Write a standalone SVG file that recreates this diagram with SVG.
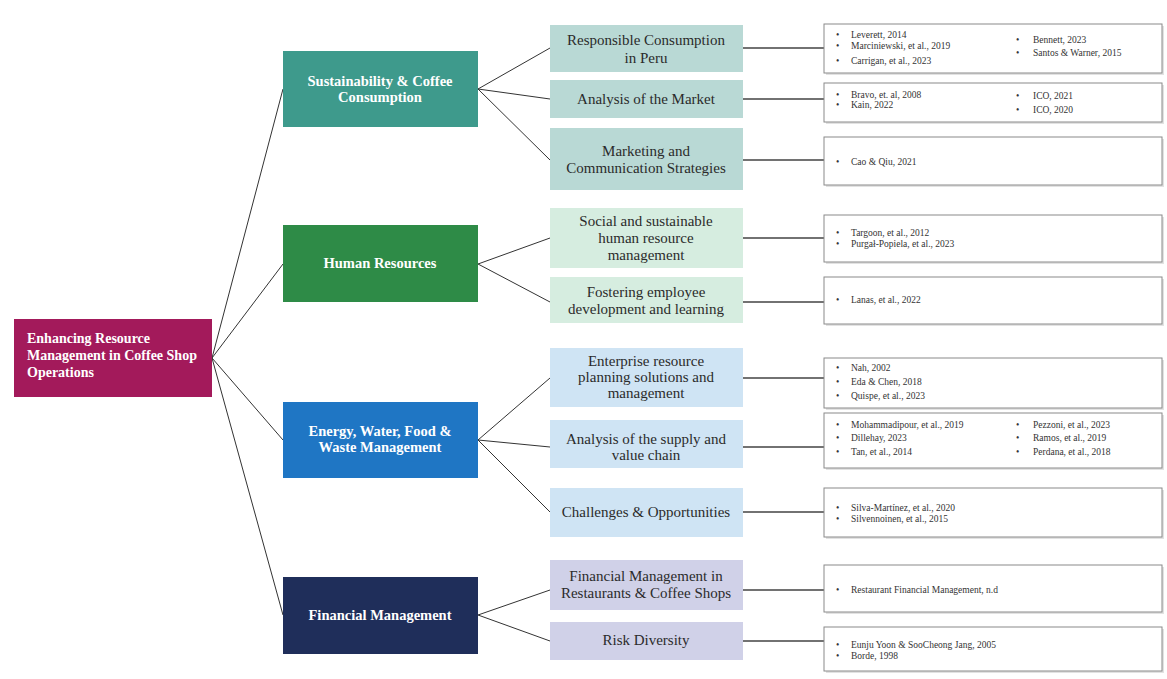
<svg xmlns="http://www.w3.org/2000/svg" width="1167" height="679" viewBox="0 0 1167 679">
<defs>
<style>
.l1t{font-family:"Liberation Serif",serif;font-weight:bold;font-size:14.5px;fill:#fff;text-anchor:middle}
.rt{font-family:"Liberation Serif",serif;font-weight:bold;font-size:14px;fill:#fff}
.l2t{font-family:"Liberation Serif",serif;font-size:15px;fill:#2b2b2b;text-anchor:middle}
.ref{font-family:"Liberation Serif",serif;font-size:9.5px;fill:#333}
.rbox{fill:#fff;stroke:#8a8a8a;stroke-width:1}
.shadow{fill:#e2e2e2}
.conn{stroke:#333;stroke-width:1;fill:none}
.hconn{stroke:#444;stroke-width:1.3;fill:none}
.teal{fill:#b9d9d5}.grn{fill:#d6ede0}.blu{fill:#cfe4f4}.lav{fill:#d0d1e8}
</style>
</defs>
<rect width="1167" height="679" fill="#fff"/>

<g id="connectors">
<path class="conn" d="M212 358 L283 89 M212 358 L283 264 M212 358 L283 440 M212 358 L283 615"/>
<path class="conn" d="M478 89 L550 48 M478 89 L550 99 M478 89 L550 160"/>
<path class="conn" d="M478 264 L550 238 M478 264 L550 302"/>
<path class="conn" d="M478 440 L550 378 M478 440 L550 447 M478 440 L550 512"/>
<path class="conn" d="M478 615 L550 590 M478 615 L550 641"/>
<path class="hconn" d="M743 48 H824 M743 99 H824 M743 160 H824 M743 238 H824 M743 302 H824 M743 378 H824 M743 447 H824 M743 512 H824 M743 590 H824 M743 641 H824"/>
</g>

<g id="root">
<rect x="14" y="319" width="198" height="78" fill="#a31a5b"/>
<text class="rt" x="27" y="343">Enhancing Resource</text>
<text class="rt" x="27" y="360">Management in Coffee Shop</text>
<text class="rt" x="27" y="377">Operations</text>
</g>

<g id="sustainability">
<rect x="283" y="51" width="195" height="76" fill="#3e9a8c"/>
<text class="l1t" x="380" y="86">Sustainability &amp; Coffee</text>
<text class="l1t" x="380" y="102">Consumption</text>
</g>
<g id="human-resources">
<rect x="283" y="225" width="195" height="77" fill="#2e8b47"/>
<text class="l1t" x="380" y="268">Human Resources</text>
</g>
<g id="energy">
<rect x="283" y="402" width="195" height="76" fill="#1f76c4"/>
<text class="l1t" x="380" y="436">Energy, Water, Food &amp;</text>
<text class="l1t" x="380" y="452">Waste Management</text>
</g>
<g id="financial">
<rect x="283" y="577" width="195" height="77" fill="#1f2e5a"/>
<text class="l1t" x="380" y="620">Financial Management</text>
</g>

<g id="responsible-consumption">
<rect class="teal" x="550" y="25" width="193" height="47"/>
<text class="l2t" x="646" y="45">Responsible Consumption</text>
<text class="l2t" x="646" y="63">in Peru</text>
</g>
<g id="market-analysis">
<rect class="teal" x="550" y="80" width="193" height="38"/>
<text class="l2t" x="646" y="104">Analysis of the Market</text>
</g>
<g id="marketing">
<rect class="teal" x="550" y="128" width="193" height="62"/>
<text class="l2t" x="646" y="156">Marketing and</text>
<text class="l2t" x="646" y="173">Communication Strategies</text>
</g>
<g id="social-hrm">
<rect class="grn" x="550" y="208" width="193" height="60"/>
<text class="l2t" x="646" y="226">Social and sustainable</text>
<text class="l2t" x="646" y="243">human resource</text>
<text class="l2t" x="646" y="260">management</text>
</g>
<g id="fostering">
<rect class="grn" x="550" y="277" width="193" height="46"/>
<text class="l2t" x="646" y="297">Fostering employee</text>
<text class="l2t" x="646" y="314">development and learning</text>
</g>
<g id="erp">
<rect class="blu" x="550" y="348" width="193" height="59"/>
<text class="l2t" x="646" y="366">Enterprise resource</text>
<text class="l2t" x="646" y="382">planning solutions and</text>
<text class="l2t" x="646" y="398">management</text>
</g>
<g id="supply-chain">
<rect class="blu" x="550" y="420" width="193" height="48"/>
<text class="l2t" x="646" y="444">Analysis of the supply and</text>
<text class="l2t" x="646" y="460">value chain</text>
</g>
<g id="challenges">
<rect class="blu" x="550" y="488" width="193" height="49"/>
<text class="l2t" x="646" y="517">Challenges &amp; Opportunities</text>
</g>
<g id="fin-restaurants">
<rect class="lav" x="550" y="560" width="193" height="50"/>
<text class="l2t" x="646" y="581">Financial Management in</text>
<text class="l2t" x="646" y="598">Restaurants &amp; Coffee Shops</text>
</g>
<g id="risk">
<rect class="lav" x="550" y="622" width="193" height="38"/>
<text class="l2t" x="646" y="645">Risk Diversity</text>
</g>

<g id="refs-responsible">
<rect class="shadow" x="826" y="26" width="338" height="49"/>
<rect class="rbox" x="824" y="24" width="338" height="49"/>
<text class="ref" x="836" y="38">•</text><text class="ref" x="851" y="38">Leverett, 2014</text>
<text class="ref" x="836" y="49">•</text><text class="ref" x="851" y="49">Marciniewski, et al., 2019</text>
<text class="ref" x="836" y="64">•</text><text class="ref" x="851" y="64">Carrigan, et al., 2023</text>
<text class="ref" x="1016" y="43">•</text><text class="ref" x="1033" y="43">Bennett, 2023</text>
<text class="ref" x="1016" y="56">•</text><text class="ref" x="1033" y="56">Santos &amp; Warner, 2015</text>
</g>
<g id="refs-market">
<rect class="shadow" x="826" y="85" width="338" height="39"/>
<rect class="rbox" x="824" y="83" width="338" height="39"/>
<text class="ref" x="836" y="98">•</text><text class="ref" x="851" y="98">Bravo, et. al, 2008</text>
<text class="ref" x="836" y="108">•</text><text class="ref" x="851" y="108">Kain, 2022</text>
<text class="ref" x="1016" y="99">•</text><text class="ref" x="1033" y="99">ICO, 2021</text>
<text class="ref" x="1016" y="113">•</text><text class="ref" x="1033" y="113">ICO, 2020</text>
</g>
<g id="refs-marketing">
<rect class="shadow" x="826" y="139" width="338" height="48"/>
<rect class="rbox" x="824" y="137" width="338" height="48"/>
<text class="ref" x="836" y="165">•</text><text class="ref" x="851" y="165">Cao &amp; Qiu, 2021</text>
</g>
<g id="refs-social">
<rect class="shadow" x="826" y="217" width="338" height="47"/>
<rect class="rbox" x="824" y="215" width="338" height="47"/>
<text class="ref" x="836" y="236">•</text><text class="ref" x="851" y="236">Targoon, et al., 2012</text>
<text class="ref" x="836" y="247">•</text><text class="ref" x="851" y="247">Purgał-Popiela, et al., 2023</text>
</g>
<g id="refs-fostering">
<rect class="shadow" x="826" y="279" width="338" height="47"/>
<rect class="rbox" x="824" y="277" width="338" height="47"/>
<text class="ref" x="836" y="303">•</text><text class="ref" x="851" y="303">Lanas, et al., 2022</text>
</g>
<g id="refs-erp">
<rect class="shadow" x="826" y="360" width="338" height="50"/>
<rect class="rbox" x="824" y="358" width="338" height="50"/>
<text class="ref" x="836" y="371">•</text><text class="ref" x="851" y="371">Nah, 2002</text>
<text class="ref" x="836" y="385">•</text><text class="ref" x="851" y="385">Eda &amp; Chen, 2018</text>
<text class="ref" x="836" y="399">•</text><text class="ref" x="851" y="399">Quispe, et al., 2023</text>
</g>
<g id="refs-supply">
<rect class="shadow" x="826" y="415" width="338" height="55"/>
<rect class="rbox" x="824" y="413" width="338" height="55"/>
<text class="ref" x="836" y="428">•</text><text class="ref" x="851" y="428">Mohammadipour, et al., 2019</text>
<text class="ref" x="836" y="441">•</text><text class="ref" x="851" y="441">Dillehay, 2023</text>
<text class="ref" x="836" y="455">•</text><text class="ref" x="851" y="455">Tan, et al., 2014</text>
<text class="ref" x="1016" y="428">•</text><text class="ref" x="1033" y="428">Pezzoni, et al., 2023</text>
<text class="ref" x="1016" y="441">•</text><text class="ref" x="1033" y="441">Ramos, et al., 2019</text>
<text class="ref" x="1016" y="455">•</text><text class="ref" x="1033" y="455">Perdana, et al., 2018</text>
</g>
<g id="refs-challenges">
<rect class="shadow" x="826" y="490" width="338" height="49"/>
<rect class="rbox" x="824" y="488" width="338" height="49"/>
<text class="ref" x="836" y="511">•</text><text class="ref" x="851" y="511">Silva-Martínez, et al., 2020</text>
<text class="ref" x="836" y="522">•</text><text class="ref" x="851" y="522">Silvennoinen, et al., 2015</text>
</g>
<g id="refs-fin">
<rect class="shadow" x="826" y="567" width="338" height="47"/>
<rect class="rbox" x="824" y="565" width="338" height="47"/>
<text class="ref" x="836" y="593">•</text><text class="ref" x="851" y="593">Restaurant Financial Management, n.d</text>
</g>
<g id="refs-risk">
<rect class="shadow" x="826" y="629" width="338" height="44"/>
<rect class="rbox" x="824" y="627" width="338" height="44"/>
<text class="ref" x="836" y="648">•</text><text class="ref" x="851" y="648">Eunju Yoon &amp; SooCheong Jang, 2005</text>
<text class="ref" x="836" y="659">•</text><text class="ref" x="851" y="659">Borde, 1998</text>
</g>
</svg>
